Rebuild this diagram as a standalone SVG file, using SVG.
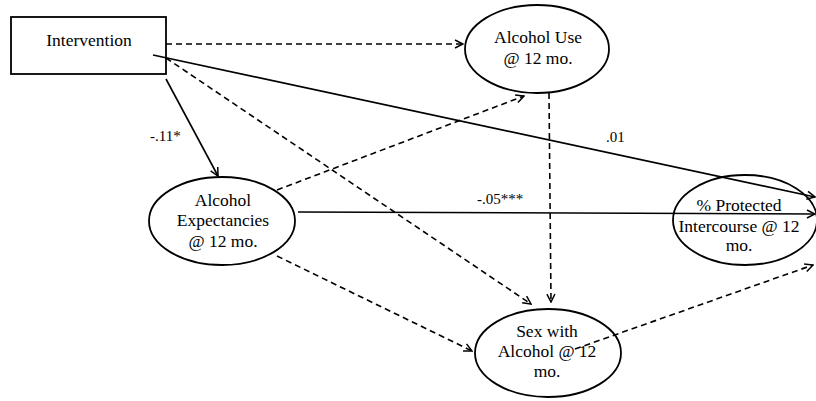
<svg xmlns="http://www.w3.org/2000/svg" width="816" height="401" viewBox="0 0 816 401">
<defs>
<style>
.shape{fill:#fff;stroke:#000;stroke-width:1.8}
.t{font-family:"Liberation Serif","Times New Roman",serif;font-size:17.5px;fill:#000;text-anchor:middle}
.lbl{font-family:"Liberation Serif","Times New Roman",serif;font-size:15px;fill:#000}
.solid{fill:none;stroke:#000;stroke-width:1.6}
.dash{fill:none;stroke:#000;stroke-width:1.6;stroke-dasharray:6 4}
</style>
<marker id="arr" viewBox="0 0 10 10" refX="9" refY="5" markerWidth="10" markerHeight="10" markerUnits="userSpaceOnUse" orient="auto">
<path d="M1,1 L9,5 L1,9" fill="none" stroke="#000" stroke-width="1.5"/>
</marker>
</defs>
<rect width="816" height="401" fill="#fff"/>
<g id="intervention">
<rect class="shape" x="11" y="17" width="155" height="57"/>
<text class="t" x="89" y="46">Intervention</text>
</g>
<g id="alcohol-use">
<ellipse class="shape" cx="537" cy="49" rx="72" ry="44"/>
<text class="t" x="538" y="43">Alcohol Use</text>
<text class="t" x="538" y="64">@ 12 mo.</text>
</g>
<g id="alcohol-expectancies">
<ellipse class="shape" cx="222" cy="221" rx="73" ry="44"/>
<text class="t" x="223" y="206">Alcohol</text>
<text class="t" x="223" y="226">Expectancies</text>
<text class="t" x="223" y="247">@ 12 mo.</text>
</g>
<g id="protected-intercourse">
<ellipse class="shape" cx="745" cy="220" rx="72" ry="45"/>
<text class="t" x="739" y="211">% Protected</text>
<text class="t" x="739" y="232">Intercourse @ 12</text>
<text class="t" x="739" y="251">mo.</text>
</g>
<g id="sex-with-alcohol">
<ellipse class="shape" cx="548" cy="353" rx="73" ry="44"/>
<text class="t" x="547" y="337">Sex with</text>
<text class="t" x="547" y="357">Alcohol @ 12</text>
<text class="t" x="547" y="377">mo.</text>
</g>
<g id="connectors">
<line class="dash" x1="166" y1="44" x2="463" y2="44" marker-end="url(#arr)"/>
<line class="solid" x1="153" y1="55" x2="815" y2="197" marker-end="url(#arr)"/>
<line class="dash" x1="166" y1="58" x2="531" y2="304" marker-end="url(#arr)"/>
<line class="solid" x1="166" y1="79" x2="218" y2="176" marker-end="url(#arr)"/>
<line class="dash" x1="277" y1="190" x2="524" y2="96" marker-end="url(#arr)"/>
<line class="solid" x1="298" y1="212" x2="815" y2="214" marker-end="url(#arr)"/>
<line class="dash" x1="277" y1="256" x2="472" y2="351" marker-end="url(#arr)"/>
<line class="dash" x1="549" y1="93" x2="551" y2="302" marker-end="url(#arr)"/>
<line class="dash" x1="575" y1="349" x2="813" y2="265" marker-end="url(#arr)"/>
<text class="lbl" x="150" y="141">-.11*</text>
<text class="lbl" x="606" y="142">.01</text>
<text class="lbl" x="477" y="204">-.05***</text>
</g>
</svg>
